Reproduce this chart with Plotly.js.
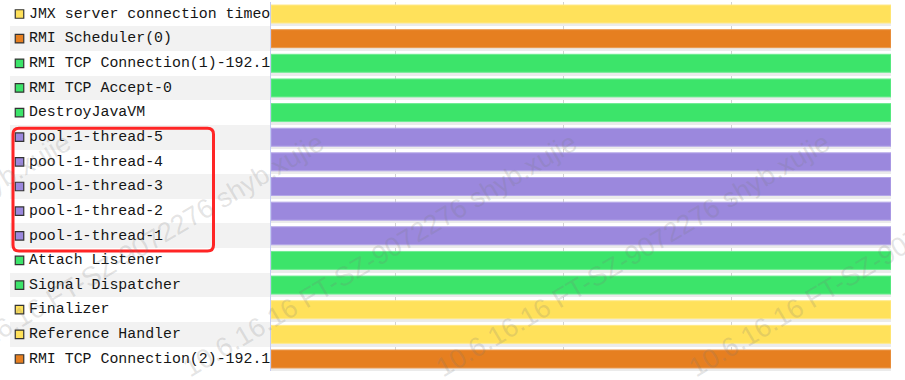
<!DOCTYPE html>
<html>
<head>
<meta charset="utf-8">
<script src="https://cdn.plot.ly/plotly-3.0.1.min.js"></script>
<style>html,body{margin:0;padding:0;background:#fff;}#chart{width:905px;height:380px;}</style>
</head>
<body>
<div id="chart"></div>
<script>
// ---- data ----
const threads = [
  "JMX server connection timeout",
  "RMI Scheduler(0)",
  "RMI TCP Connection(1)-192.1",
  "RMI TCP Accept-0",
  "DestroyJavaVM",
  "pool-1-thread-5",
  "pool-1-thread-4",
  "pool-1-thread-3",
  "pool-1-thread-2",
  "pool-1-thread-1",
  "Attach Listener",
  "Signal Dispatcher",
  "Finalizer",
  "Reference Handler",
  "RMI TCP Connection(2)-192.1"
];
const states = [
  "Wait", "Park", "Running", "Running", "Running",
  "Sleeping", "Sleeping", "Sleeping", "Sleeping", "Sleeping",
  "Running", "Running", "Wait", "Wait", "Park"
];
const startTimes = [0,0,0,0,0,0,0,0,0,0,0,0,0,0,0];
const endTimes   = [36.8,36.8,36.8,36.8,36.8,36.8,36.8,36.8,36.8,36.8,36.8,36.8,36.8,36.8,36.8];
const watermark = "10.6.16.16 FT-SZ-9072276 shyb.xujie";

// ---- styles ----
const W = 905, H = 380;
const stateColors = {Running:"#3ce46a", Sleeping:"#9b88dd", Wait:"#ffe15b", Park:"#e67f20"};
const stateEdge   = {Running:"#6fec92", Sleeping:"#b4a7e8", Wait:"#ffe98a", Park:"#eb9a50"};
const splitPx = 271, plotRightPx = 891;
const yTopPx = 1.7, yBotPx = 371.3;
const barW = 0.73;

const durations = endTimes.map((e,i)=>e-startTimes[i]);
const traces = [];

// alternating row backgrounds in label panel
const oddRows = threads.filter((_,i)=>i%2===1);
traces.push({
  type:"bar", orientation:"h", xaxis:"x2", yaxis:"y",
  y: oddRows, x: oddRows.map(()=>260), base: oddRows.map(()=>10),
  width: 1, marker:{color:"#f2f2f2", line:{width:0}},
  hoverinfo:"skip", showlegend:false
});

// state squares
traces.push({
  type:"scatter", mode:"markers", xaxis:"x2", yaxis:"y",
  y: threads, x: threads.map(()=>19.5),
  marker:{symbol:"square", size:8.5, color: states.map(s=>stateColors[s]), line:{color:"#333333", width:1.2}},
  hoverinfo:"skip", showlegend:false, cliponaxis:true
});

// thread names (clipped by the panel)
traces.push({
  type:"scatter", mode:"text", xaxis:"x2", yaxis:"y",
  y: threads, x: threads.map(()=>29),
  text: threads, textposition:"middle right",
  textfont:{family:"Liberation Mono, DejaVu Sans Mono, monospace", size:14.9, color:"#151515"},
  hoverinfo:"skip", showlegend:false, cliponaxis:true
});

// bar shadows
traces.push({
  type:"bar", orientation:"h", xaxis:"x", yaxis:"y",
  y: threads, x: durations, base: startTimes,
  width: barW, offset: -barW/2 + 0.13,
  marker:{color:"#ebebeb", line:{width:0}},
  hoverinfo:"skip", showlegend:false
});

// timeline bars
traces.push({
  type:"bar", orientation:"h", xaxis:"x", yaxis:"y",
  y: threads, x: durations, base: startTimes,
  width: barW,
  marker:{color: states.map(s=>stateColors[s]), line:{color: states.map(s=>stateEdge[s]), width:1}},
  text: states, hoverinfo:"y+text", textposition:"none", showlegend:false
});

// rounded highlight box (pixel geometry)
function rrPath(x0,y0,x1,y1,r){
  const X = v=>(v/W).toFixed(5), Y = v=>(1-v/H).toFixed(5);
  return `M ${X(x0+r)},${Y(y0)} L ${X(x1-r)},${Y(y0)} Q ${X(x1)},${Y(y0)} ${X(x1)},${Y(y0+r)} `+
         `L ${X(x1)},${Y(y1-r)} Q ${X(x1)},${Y(y1)} ${X(x1-r)},${Y(y1)} `+
         `L ${X(x0+r)},${Y(y1)} Q ${X(x0)},${Y(y1)} ${X(x0)},${Y(y1-r)} `+
         `L ${X(x0)},${Y(y0+r)} Q ${X(x0)},${Y(y0)} ${X(x0+r)},${Y(y0)} Z`;
}

// watermark copies
const wmCenters = [-126, 127, 380, 633, 886];
const annotations = wmCenters.map(cx=>({
  xref:"paper", yref:"paper", x: cx/W, y: 1-255/H,
  text: watermark, showarrow:false, textangle:-30.6,
  xanchor:"center", yanchor:"middle",
  font:{family:"Liberation Sans, Arial, sans-serif", size:27, color:"rgba(120,120,120,0.2)"}
}));

const layout = {
  width: W, height: H,
  margin:{l:0, r:0, t:0, b:0, pad:0},
  paper_bgcolor:"#ffffff", plot_bgcolor:"rgba(0,0,0,0)",
  barmode:"overlay", bargap:0,
  showlegend:false,
  xaxis:{
    domain:[splitPx/W, plotRightPx/W], anchor:"y",
    range:[0, 36.8], tick0:7.36, dtick:10,
    showgrid:true, gridcolor:"#d2d2d2", gridwidth:1,
    zeroline:false, showline:false, showticklabels:false, ticks:"", fixedrange:true
  },
  xaxis2:{
    domain:[0, splitPx/W], anchor:"y",
    range:[0, splitPx], showgrid:false, zeroline:false, showline:false,
    showticklabels:false, ticks:"", fixedrange:true
  },
  yaxis:{
    domain:[1-yBotPx/H, 1-yTopPx/H], anchor:"x",
    type:"category", categoryorder:"array", categoryarray: threads,
    range:[threads.length-0.5, -0.5],
    showgrid:false, zeroline:false, showticklabels:false, ticks:"",
    showline:true, linecolor:"#c6cdf2", linewidth:1, fixedrange:true
  },
  shapes:[{
    type:"path", xref:"paper", yref:"paper",
    path: rrPath(13, 128.2, 213.5, 251, 6),
    line:{color:"#ff2525", width:3}, fillcolor:"rgba(0,0,0,0)", layer:"above"
  }],
  annotations: annotations
};

Plotly.newPlot("chart", traces, layout, {displayModeBar:false, staticPlot:true});
</script>
</body>
</html>
